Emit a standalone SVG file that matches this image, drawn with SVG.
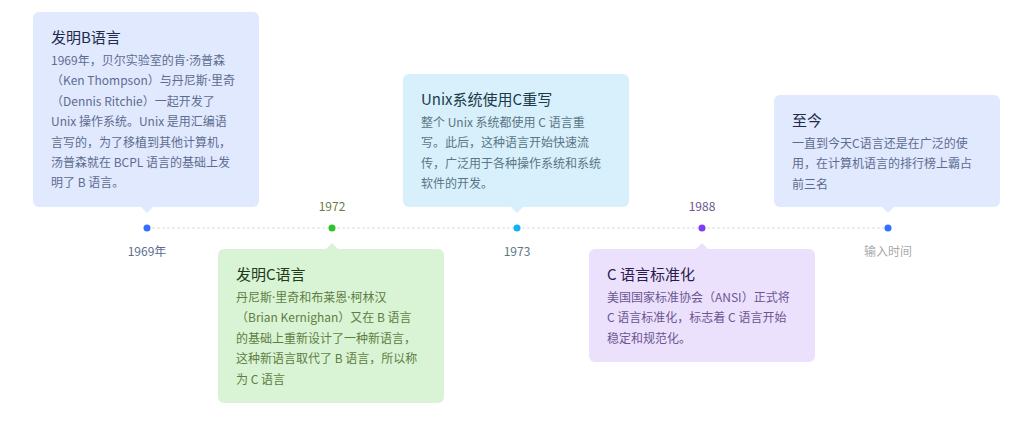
<svg xmlns="http://www.w3.org/2000/svg" width="1033" height="439" viewBox="0 0 1033 439">
<style>
text{font-family:"Noto Sans CJK SC","Noto Sans",sans-serif}
.d{font-family:"Noto Sans",sans-serif}
.t{font-size:15px}
.b{font-size:12px}
.lbl{font-size:12px;text-anchor:middle}
.axis{stroke:#dedede;stroke-width:1;stroke-dasharray:3 2;fill:none}
.blue rect,.blue polygon{fill:#e1e9ff}
.blue .t{fill:#1f2b4a}
.blue .b{fill:#5d6c8e}
.green rect,.green polygon{fill:#d9f4d5}
.green .t{fill:#22391a}
.green .b{fill:#5f7d42}
.cyan rect,.cyan polygon{fill:#d7f0fb}
.cyan .t{fill:#1b3a4a}
.cyan .b{fill:#5a7585}
.purple rect,.purple polygon{fill:#ebe1fd}
.purple .t{fill:#2b1b4b}
.purple .b{fill:#6d5590}
</style>
<rect width="1033" height="439" fill="#ffffff"/>
<g id="connectors">
<line class="axis" x1="147" y1="228" x2="888" y2="228"/>
</g>
<g id="node-1969" class="blue">
<rect x="33" y="12" width="226" height="195" rx="6"/>
<polygon points="141,207 153,207 147,213"/>
<text class="t" x="51" y="43">发明B语言</text>
<text class="b" x="51" y="65">1969年，贝尔实验室的肯<tspan class="d">·</tspan>汤普森</text>
<text class="b" x="51" y="85.4">（Ken Thompson）与丹尼斯<tspan class="d">·</tspan>里奇</text>
<text class="b" x="51" y="105.8">（Dennis Ritchie）一起开发了</text>
<text class="b" x="51" y="126.2">Unix 操作系统。Unix 是用汇编语</text>
<text class="b" x="51" y="146.6">言写的，为了移植到其他计算机，</text>
<text class="b" x="51" y="167">汤普森就在 BCPL 语言的基础上发</text>
<text class="b" x="51" y="187.4">明了 B 语言。</text>
<circle cx="147" cy="228" r="3.5" fill="#3370ff"/>
<text class="lbl" x="147" y="256" fill="#5d6c8e">1969年</text>
</g>
<g id="node-1972" class="green">
<rect x="218" y="249" width="226" height="154" rx="6"/>
<polygon points="326,249 338,249 332,243"/>
<text class="t" x="236" y="280">发明C语言</text>
<text class="b" x="236" y="302">丹尼斯<tspan class="d">·</tspan>里奇和布莱恩<tspan class="d">·</tspan>柯林汉</text>
<text class="b" x="236" y="322.4">（Brian Kernighan）又在 B 语言</text>
<text class="b" x="236" y="342.8">的基础上重新设计了一种新语言，</text>
<text class="b" x="236" y="363.2">这种新语言取代了 B 语言，所以称</text>
<text class="b" x="236" y="383.6">为 C 语言</text>
<circle cx="332" cy="228" r="3.5" fill="#2fc22a"/>
<text class="lbl" x="332" y="211" fill="#6b7b45">1972</text>
</g>
<g id="node-1973" class="cyan">
<rect x="403" y="74" width="226" height="133" rx="6"/>
<polygon points="511,207 523,207 517,213"/>
<text class="t" x="421" y="105">Unix系统使用C重写</text>
<text class="b" x="421" y="127">整个 Unix 系统都使用 C 语言重</text>
<text class="b" x="421" y="147.4">写。此后，这种语言开始快速流</text>
<text class="b" x="421" y="167.8">传，广泛用于各种操作系统和系统</text>
<text class="b" x="421" y="188.2">软件的开发。</text>
<circle cx="517" cy="228" r="3.5" fill="#14b1f5"/>
<text class="lbl" x="517" y="256" fill="#5a7585">1973</text>
</g>
<g id="node-1988" class="purple">
<rect x="589" y="249" width="226" height="113" rx="6"/>
<polygon points="696,249 708,249 702,243"/>
<text class="t" x="607" y="280">C 语言标准化</text>
<text class="b" x="607" y="302">美国国家标准协会（ANSI）正式将</text>
<text class="b" x="607" y="322.4">C 语言标准化，标志着 C 语言开始</text>
<text class="b" x="607" y="342.8">稳定和规范化。</text>
<circle cx="702" cy="228" r="3.5" fill="#7f3bf5"/>
<text class="lbl" x="702" y="211" fill="#6d5590">1988</text>
</g>
<g id="node-now" class="blue">
<rect x="774" y="95" width="226" height="112" rx="6"/>
<polygon points="882,207 894,207 888,213"/>
<text class="t" x="792" y="126">至今</text>
<text class="b" x="792" y="148">一直到今天C语言还是在广泛的使</text>
<text class="b" x="792" y="168.4">用，在计算机语言的排行榜上霸占</text>
<text class="b" x="792" y="188.8">前三名</text>
<circle cx="888" cy="228" r="3.5" fill="#3370ff"/>
<text class="lbl" x="888" y="256" fill="#aaaaaa">输入时间</text>
</g>
</svg>
